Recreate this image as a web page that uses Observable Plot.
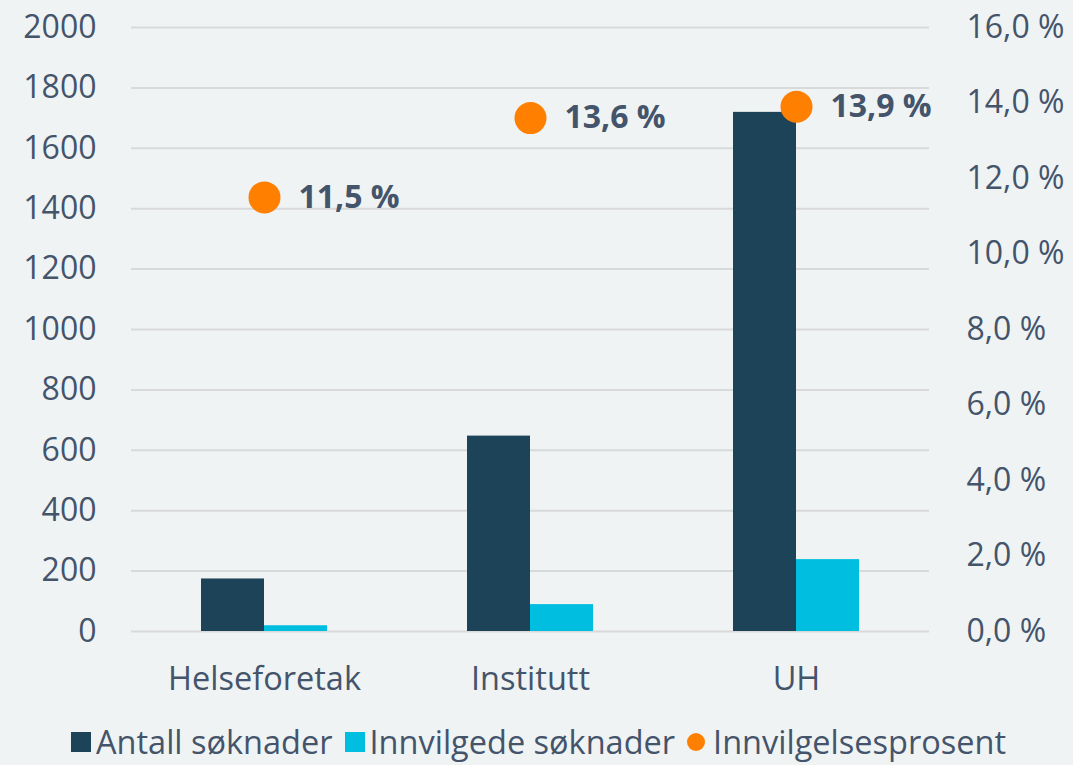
<!DOCTYPE html>
<html>
<head>
<meta charset="utf-8">
<script src="https://cdn.jsdelivr.net/npm/d3@7"></script>
<script src="https://cdn.jsdelivr.net/npm/@observablehq/plot@0.6"></script>
<style>
  html, body { margin: 0; padding: 0; background: #eff3f4; }
  body { width: 1073px; height: 765px; overflow: hidden; font-family: "Open Sans", Lato, sans-serif; color: #44546a; }
  #chart svg { display: block; }
  #legend { display: flex; justify-content: center; align-items: center; font-size: 32.5px; line-height: 1; height: 40px; margin-top: 7px; margin-left: 4px; white-space: nowrap; }
  #legend .item { display: flex; align-items: center; margin: 0 6px; }
  #legend .sw { width: 20px; height: 20px; margin-right: 5px; }
  #legend .dot { width: 18px; height: 18px; border-radius: 50%; margin-right: 8px; }
</style>
</head>
<body>
<div id="chart"></div>
<div id="legend"></div>
<script>
const categories = ["Helseforetak", "Institutt", "UH"];
const seriesNames = ["Antall søknader", "Innvilgede søknader"];
const antall = [174, 647, 1719];
const innvilgede = [19, 89, 238];
const prosentName = "Innvilgelsesprosent";
const prosent = [11.5, 13.6, 13.9];
const leftTicks = [0, 200, 400, 600, 800, 1000, 1200, 1400, 1600, 1800, 2000];
const rightTicks = [0, 2, 4, 6, 8, 10, 12, 14, 16];

const colors = ["#1d4359", "#00bee0"];
const orange = "#ff7f00";
const textColor = "#44546a";
const ratio = 2000 / 16;

const bars = [];
categories.forEach((c, i) => {
  bars.push({cat: c, series: seriesNames[0], value: antall[i]});
  bars.push({cat: c, series: seriesNames[1], value: innvilgede[i]});
});
const pts = categories.map((c, i) => ({cat: c, pct: prosent[i], y: prosent[i] * ratio}));

const fmtPct = p => p.toFixed(1).replace(".", ",") + " %";

const chart = Plot.plot({
  width: 1073,
  height: 715,
  marginLeft: 130,
  marginRight: 143,
  marginTop: 27,
  marginBottom: 84,
  style: {background: "transparent", fontFamily: "'Open Sans', Lato, sans-serif", color: textColor},
  fx: {domain: categories, padding: 0},
  x: {domain: seriesNames, axis: null, paddingInner: 0, paddingOuter: 1.08},
  y: {domain: [0, 2000], axis: null},
  color: {domain: seriesNames, range: colors},
  marks: [
    Plot.gridY(leftTicks, {stroke: "#d9d9d9", strokeOpacity: 1, strokeWidth: 2}),
    Plot.axisY({anchor: "left", ticks: leftTicks, tickSize: 0, tickPadding: 35, fontSize: 32, tickFormat: d => String(d), label: null, fill: textColor}),
    Plot.axisY({anchor: "right", ticks: rightTicks.map(t => t * ratio), tickSize: 0, tickPadding: 37, fontSize: 32, tickFormat: d => fmtPct(d / ratio), label: null, fill: textColor}),
    Plot.axisFx({anchor: "bottom", tickSize: 0, tickPadding: 35, fontSize: 32.5, label: null, fill: textColor}),
    Plot.barY(bars, {fx: "cat", x: "series", y: "value", fill: "series", inset: 0}),
    Plot.dot(pts, {fx: "cat", y: "y", r: 16, fill: orange}),
    Plot.text(pts, {fx: "cat", y: "y", text: d => fmtPct(d.pct), dx: 34, textAnchor: "start", fontSize: 32, fontWeight: "bold", fill: textColor})
  ]
});
document.getElementById("chart").appendChild(chart);

const legend = document.getElementById("legend");
seriesNames.forEach((s, i) => {
  const it = document.createElement("div");
  it.className = "item";
  it.innerHTML = `<span class="sw" style="background:${colors[i]}"></span><span>${s}</span>`;
  legend.appendChild(it);
});
const it = document.createElement("div");
it.className = "item";
it.innerHTML = `<span class="dot" style="background:${orange}"></span><span>${prosentName}</span>`;
legend.appendChild(it);
</script>
</body>
</html>
